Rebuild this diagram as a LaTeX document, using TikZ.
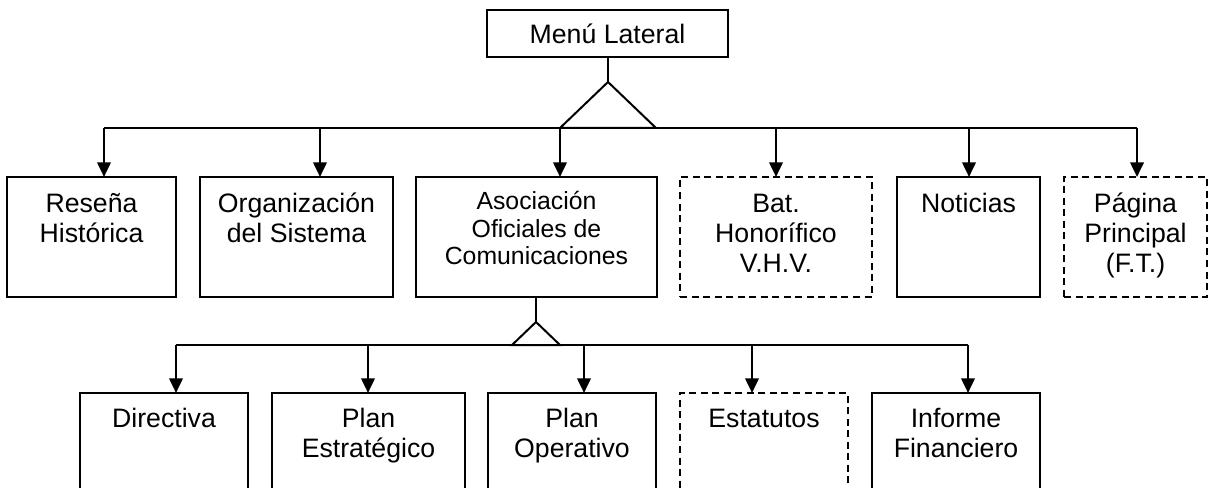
\documentclass[tikz,border=0pt]{standalone}
\usepackage{fontspec}
\setmainfont{Liberation Sans}
\usetikzlibrary{arrows.meta}
\newcommand\mlines[1]{\begin{tabular}[t]{@{}c@{}}#1\end{tabular}}
\begin{document}
\begin{tikzpicture}[x=0.75pt,y=-0.75pt,
  box/.style={draw, line width=1.5pt, inner sep=0pt, outer sep=0pt, anchor=north west,
    minimum width=#1*0.75pt, font=\fontsize{20pt}{22.5pt}\selectfont,
    text height=27pt, text depth=63pt},
  dbox/.style={box=#1, dash pattern=on 5.25pt off 3.4pt},
  lowbox/.style={box=#1, text height=25.5pt, text depth=72pt},
  dlowbox/.style={lowbox=#1, dash pattern=on 5.25pt off 3.4pt},
  ln/.style={line width=1.5pt, line join=miter},
  arr/.style={line width=2pt, -{Triangle[length=11pt,width=10pt]}}]
\useasboundingbox (0,0) rectangle (1209,488);
\clip (0,0) rectangle (1209,488);

% top
\node[box=241, text height=25.5pt, text depth=9.75pt] (menu) at (487,10) {Menú Lateral};

% row 1
\node[box=169] (res) at (7,177) {\mlines{Reseña\\Histórica}};
\node[box=193] (org) at (200,177) {\mlines{Organización\\del Sistema}};
\node[box=241, font=\fontsize{18.6pt}{20.6pt}\selectfont, text height=24.75pt, text depth=65.25pt] (aso) at (416,177) {\mlines{Asociación\\Oficiales de\\Comunicaciones}};
\node[dbox=192] (bat) at (680,177) {\mlines{Bat.\\Honorífico\\V.H.V.}};
\node[box=143] (not) at (897,177) {\mlines{Noticias}};
\node[dbox=143] (pag) at (1064,177) {\mlines{Página\\Principal\\(F.T.)}};

% row 2
\node[lowbox=168] (dir) at (80,393) {\mlines{Directiva}};
\node[lowbox=193] (pes) at (272,393) {\mlines{Plan\\Estratégico}};
\node[lowbox=168] (pop) at (488,393) {\mlines{Plan\\Operativo}};
\node[dlowbox=168] (est) at (680,393) {\mlines{Estatutos}};
\node[lowbox=168] (inf) at (872,393) {\mlines{Informe\\Financiero}};

% top connector
\coordinate (ap1) at (608,82);
\coordinate (tl1) at (560,128);
\coordinate (tr1) at (656,128);
\coordinate (s11) at (104,128);
\coordinate (s12) at (320,128);
\coordinate (s14) at (776,128);
\coordinate (s15) at (969,128);
\coordinate (s16) at (1137,128);
\draw[ln] (menu.south -| ap1) -- (ap1);
\draw[ln] (ap1) -- (tl1) -- (tr1) -- cycle;
\draw[ln] (s11) -- (s16);
\draw[arr] (s11) -- (s11 |- res.north);
\draw[arr] (s12) -- (s12 |- org.north);
\draw[arr] (tl1) -- (tl1 |- aso.north);
\draw[arr] (s14) -- (s14 |- bat.north);
\draw[arr] (s15) -- (s15 |- not.north);
\draw[arr] (s16) -- (s16 |- pag.north);

% second connector
\coordinate (ap2) at (536,322);
\coordinate (tl2) at (512,345);
\coordinate (tr2) at (560,345);
\coordinate (s21) at (176,345);
\coordinate (s22) at (368,345);
\coordinate (s23) at (584,345);
\coordinate (s24) at (752,345);
\coordinate (s25) at (968,345);
\draw[ln] (aso.south -| ap2) -- (ap2);
\draw[ln] (ap2) -- (tl2) -- (tr2) -- cycle;
\draw[ln] (s21) -- (s25);
\draw[arr] (s21) -- (s21 |- dir.north);
\draw[arr] (s22) -- (s22 |- pes.north);
\draw[arr] (s23) -- (s23 |- pop.north);
\draw[arr] (s24) -- (s24 |- est.north);
\draw[arr] (s25) -- (s25 |- inf.north);
\end{tikzpicture}
\end{document}
